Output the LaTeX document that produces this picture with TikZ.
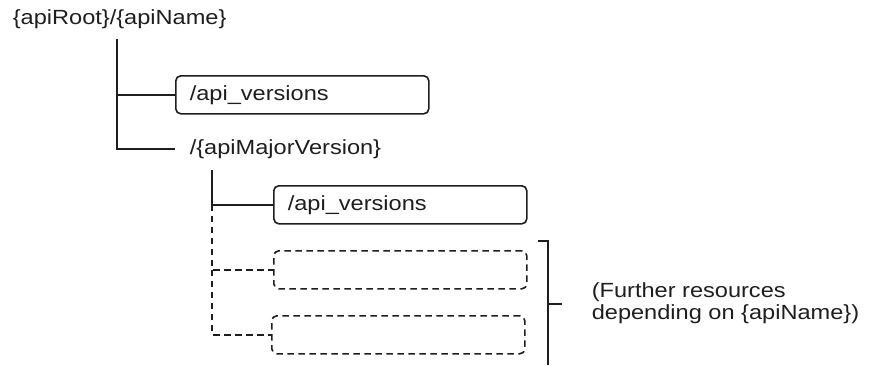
\documentclass[tikz,border=0pt]{standalone}
\usepackage{fontspec}
\setmainfont{Liberation Sans}[FakeStretch=1.15]
\usepackage{tikz}
\usepackage{xcolor}
\definecolor{ink}{HTML}{1E1E1E}

\begin{document}
\begin{tikzpicture}[x=1pt,y=-1pt,line width=1.6pt,draw=ink,
	every node/.style={font=\fontsize{20.5}{22.5}\selectfont,text=ink,inner sep=0pt},
	resbox/.style={draw,rounded corners=5pt,anchor=north west,minimum width=253pt,minimum height=38pt,inner xsep=14pt,text width=225pt,align=left},
	dashline/.style={dash pattern=on 6.5pt off 4.5pt}]
			\useasboundingbox (0,0) rectangle (873,365);
			\node[anchor=west] (root) at (12,19) {\{apiRoot\}/\{apiName\}};
			\node[resbox] (apiver1) at (175,75) {/api\_versions};
			\node[anchor=west] (major) at (189,149) {/\{apiMajorVersion\}};
			\node[resbox] (apiver2) at (273,185) {/api\_versions};
			\node[resbox,dashline] (res1) at (273,250) {};
			\node[resbox,dashline] (res2) at (271,315) {};
			\node[anchor=west,align=left] (note) at (591,303) {(Further resources\\depending on \{apiName\})};
			\coordinate (trunk1) at (117,39);
			\coordinate (trunk2) at (212,170);
			\coordinate (brtop) at (538,241);
			\coordinate (brmid) at (562,304);
			\draw (trunk1) |- (apiver1.west);
			\draw (trunk1) |- ([xshift=-14pt]major.west);
			\draw (trunk2) |- (apiver2.west);
			\draw[dashline] (apiver2.west -| trunk2) |- (res1.west);
			\draw[dashline] (res1.west -| trunk2) |- (res2.west);
			\draw (brtop) -| (548,365);
			\draw (brmid) -- (brmid -| 548,0);
		\end{tikzpicture}
\end{document}
